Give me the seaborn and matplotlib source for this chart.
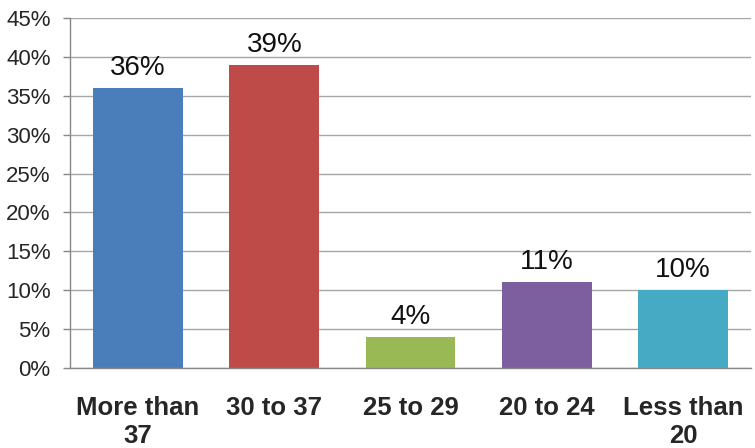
import numpy as np
import pandas as pd
import matplotlib
matplotlib.use("Agg")
import matplotlib.pyplot as plt
import seaborn as sns
from matplotlib.ticker import FixedLocator

categories = ["More than\n37", "30 to 37", "25 to 29", "20 to 24", "Less than\n20"]
shares = [36, 39, 4, 11, 10]
bar_colors = ["#4a7ebb", "#be4b48", "#98b954", "#7d5fa0", "#46aac5"]
y_ticks = [0, 5, 10, 15, 20, 25, 30, 35, 40, 45]

sns.set_style("white")
plt.rcParams["font.family"] = ["Liberation Sans", "DejaVu Sans"]

df = pd.DataFrame({"group": categories, "share": shares})

fig = plt.figure(figsize=(7.55, 4.48), dpi=100)
ax = fig.add_axes([0.0927, 0.1786, 0.902, 0.7814])

sns.barplot(data=df, x="group", y="share", hue="group", palette=bar_colors,
            width=0.66, legend=False, ax=ax, saturation=1, edgecolor="none")

for c in ax.containers:
    ax.bar_label(c, labels=[f"{v:.0f}%" for v in c.datavalues],
                 padding=5, fontsize=20, color="#111111")

ax.set_ylim(0, 45)
ax.set_xlim(-0.5, 4.5)
ax.set_yticks(y_ticks)
ax.set_yticklabels([f"{t}%" for t in y_ticks])
ax.yaxis.grid(True, color="#a6a6a6", linewidth=1)
ax.set_axisbelow(True)

# tick marks at category boundaries
ax.xaxis.set_minor_locator(FixedLocator(np.arange(-0.5, 5, 1)))
ax.tick_params(axis="x", which="minor", length=5, color="#888888", width=1)
ax.tick_params(axis="x", which="major", length=0, pad=20, labelsize=18.5)
for lbl in ax.get_xticklabels():
    lbl.set_fontweight("bold")
    lbl.set_linespacing(1.2)
ax.tick_params(axis="y", length=5, color="#888888", width=1, pad=9,
               labelsize=16, left=True)

for s in ["top", "right"]:
    ax.spines[s].set_visible(False)
for s in ["left", "bottom"]:
    ax.spines[s].set_color("#888888")
    ax.spines[s].set_linewidth(1)

ax.set_xlabel("")
ax.set_ylabel("")

fig.savefig("out.png", dpi=100)
